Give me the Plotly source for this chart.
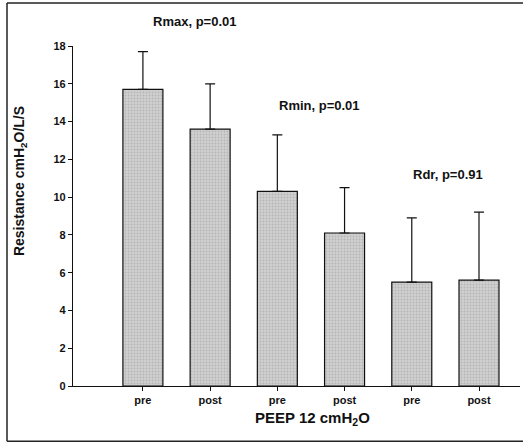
import plotly.graph_objects as go

labels = ["pre", "post", "pre", "post", "pre", "post"]
means = [15.7, 13.6, 10.3, 8.1, 5.5, 5.6]
sd_up = [2.0, 2.4, 3.0, 2.4, 3.4, 3.6]
y_ticks = [0, 2, 4, 6, 8, 10, 12, 14, 16, 18]
group_labels = ["Rmax, p=0.01", "Rmin, p=0.01", "Rdr, p=0.91"]
group_label_x = [0.77, 2.62, 4.54]
group_label_y = [19.3, 14.85, 11.2]

positions = list(range(len(labels)))
FONT = "Liberation Sans, Arial, sans-serif"


def ypaper(px):
    return (385.7 - px) / 339.7


def xpaper(px):
    return (px - 73) / 447


fig = go.Figure()
fig.add_trace(go.Bar(
    x=positions, y=means, width=0.595,
    marker=dict(
        color="#cfcfcf",
        line=dict(color="#111111", width=1.2),
        pattern=dict(shape=".", fgcolor="#999999", bgcolor="#d0d0d0", size=3, solidity=0.3),
    ),
    error_y=dict(type="data", symmetric=False, array=sd_up, arrayminus=[0] * len(sd_up),
                 color="#111111", thickness=1.2, width=5),
    showlegend=False,
))

for txt, gx, gy in zip(group_labels, group_label_x, group_label_y):
    fig.add_annotation(x=gx, y=gy / 18, xref="x", yref="paper", text=f"<b>{txt}</b>",
                       xanchor="center", yanchor="middle",
                       showarrow=False, font=dict(family=FONT, size=13, color="#111111"))

fig.add_annotation(x=xpaper(20), y=ypaper(181), xref="paper", yref="paper",
                   xanchor="center", yanchor="middle",
                   text="<b>Resistance cmH<sub>2</sub>O/L/S</b>", textangle=-90, showarrow=False,
                   font=dict(family=FONT, size=14, color="#111111"))
fig.add_annotation(x=xpaper(312), y=ypaper(418), xref="paper", yref="paper",
                   xanchor="center", yanchor="middle",
                   text="<b>PEEP 12 cmH<sub>2</sub>O</b>", showarrow=False,
                   font=dict(family=FONT, size=15, color="#111111"))

# outer frame: left, top and bottom edges (no right edge in the reference)
frame = dict(xref="paper", yref="paper", line=dict(color="#222222", width=1.5))
fig.add_shape(type="line", x0=xpaper(7), x1=xpaper(7), y0=ypaper(441), y1=ypaper(3), **frame)
fig.add_shape(type="line", x0=xpaper(7), x1=xpaper(523), y0=ypaper(3), y1=ypaper(3), **frame)
fig.add_shape(type="line", x0=xpaper(7), x1=xpaper(523), y0=ypaper(441), y1=ypaper(441), **frame)

fig.update_layout(
    width=524, height=446,
    margin=dict(l=73, r=4, t=46, b=60),
    paper_bgcolor="white", plot_bgcolor="white",
    font=dict(family=FONT, size=11, color="#111111"),
    bargap=0.4,
)
fig.update_xaxes(range=[-1.04, 5.61], tickvals=positions, ticktext=[f"<b>{t}</b>" for t in labels],
                 showgrid=False, zeroline=False, showline=True, linecolor="#111111", linewidth=1.2,
                 ticks="outside", ticklen=4, tickcolor="#111111", tickfont=dict(size=11))
fig.update_yaxes(range=[0, 18], tickvals=y_ticks, ticktext=[f"<b>{t}</b>" for t in y_ticks],
                 showgrid=False, zeroline=False, showline=True, linecolor="#111111", linewidth=1.2,
                 ticks="outside", ticklen=4, tickcolor="#111111", tickfont=dict(size=11))

fig.write_html("out.html", config={"displayModeBar": False},
               post_script="document.body.style.margin='0';document.body.style.overflow='hidden';")
